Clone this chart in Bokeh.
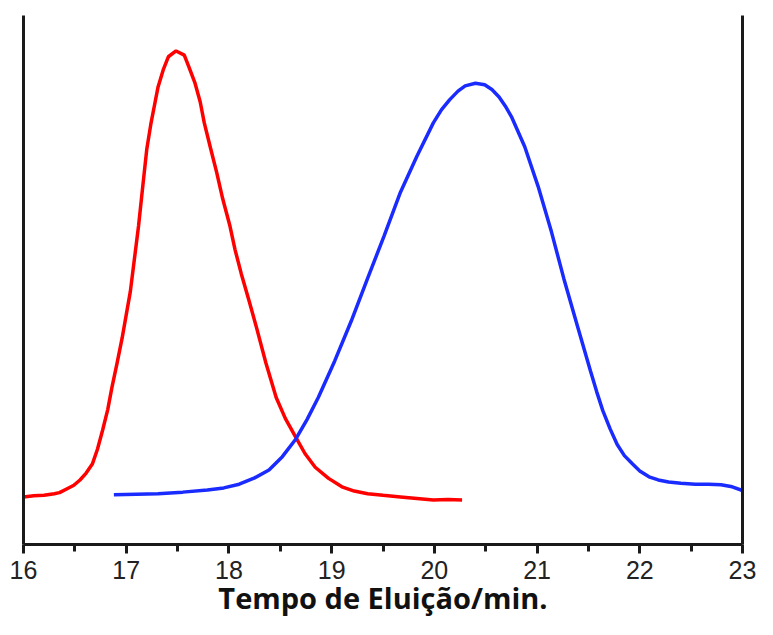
from bokeh.plotting import figure
from bokeh.models import Range1d, FixedTicker, LinearAxis
from bokeh.embed import file_html
from bokeh.resources import INLINE

# Elution time (min) and normalised detector signal
red_time = [16.00, 16.10, 16.20, 16.30, 16.35, 16.42, 16.49, 16.55, 16.61, 16.67,
            16.72, 16.77, 16.82, 16.86, 16.91, 16.96, 17.00, 17.04, 17.08, 17.12,
            17.16, 17.20, 17.24, 17.28, 17.31, 17.36, 17.41, 17.485, 17.565, 17.61,
            17.67, 17.72, 17.76, 17.82, 17.88, 17.94, 18.01, 18.06, 18.12, 18.20,
            18.27, 18.36, 18.46, 18.55, 18.65, 18.74, 18.84, 18.97, 19.10, 19.22,
            19.35, 19.50, 19.67, 19.83, 19.99, 20.13, 20.27]
red_signal = [0.090, 0.092, 0.093, 0.096, 0.098, 0.105, 0.112, 0.122, 0.135, 0.152,
              0.180, 0.216, 0.255, 0.296, 0.342, 0.390, 0.434, 0.478, 0.540, 0.602,
              0.675, 0.747, 0.795, 0.835, 0.865, 0.897, 0.922, 0.933, 0.925, 0.903,
              0.872, 0.837, 0.797, 0.750, 0.704, 0.653, 0.602, 0.557, 0.512, 0.458,
              0.409, 0.343, 0.278, 0.238, 0.203, 0.172, 0.146, 0.125, 0.109, 0.101,
              0.096, 0.093, 0.090, 0.087, 0.084, 0.085, 0.084]

blue_time = [16.88, 17.10, 17.31, 17.55, 17.79, 17.95, 18.10, 18.25, 18.39, 18.52,
             18.65, 18.76, 18.87, 19.03, 19.19, 19.35, 19.51, 19.67, 19.83, 19.99,
             20.07, 20.15, 20.23, 20.30, 20.40, 20.49, 20.56, 20.63, 20.69, 20.75,
             20.88, 21.01, 21.14, 21.26, 21.39, 21.52, 21.58, 21.64, 21.71, 21.78,
             21.85, 21.93, 22.00, 22.09, 22.18, 22.28, 22.40, 22.54, 22.67, 22.79,
             22.90, 23.00]
blue_signal = [0.094, 0.095, 0.096, 0.099, 0.103, 0.107, 0.114, 0.126, 0.141, 0.166,
               0.199, 0.236, 0.278, 0.347, 0.422, 0.503, 0.583, 0.666, 0.734, 0.797,
               0.822, 0.841, 0.857, 0.867, 0.872, 0.869, 0.860, 0.846, 0.829, 0.809,
               0.752, 0.677, 0.591, 0.503, 0.415, 0.328, 0.289, 0.253, 0.219, 0.189,
               0.168, 0.152, 0.139, 0.128, 0.122, 0.118, 0.116, 0.114, 0.114, 0.113,
               0.109, 0.102]

x_ticks = [16, 17, 18, 19, 20, 21, 22, 23]
x_minor_ticks = [16.5, 17.5, 18.5, 19.5, 20.5, 21.5, 22.5]
x_label = "Tempo de Eluição/min."

p = figure(width=757, height=619, output_backend="svg", toolbar_location=None,
           x_range=Range1d(16, 23), y_range=Range1d(0, 1),
           min_border_left=23, min_border_right=15, min_border_top=15,
           min_border_bottom=74)
p.outline_line_color = None
p.xgrid.visible = False
p.ygrid.visible = False
p.background_fill_color = "white"
p.border_fill_color = "white"

axis_color = "#1a1a1a"
xa = p.xaxis[0]
xa.ticker = FixedTicker(ticks=x_ticks, minor_ticks=x_minor_ticks)
xa.axis_line_width = 3
xa.axis_line_color = axis_color
xa.major_tick_line_width = 3
xa.major_tick_line_color = axis_color
xa.major_tick_in = 0
xa.major_tick_out = 9
xa.minor_tick_line_width = 3
xa.minor_tick_line_color = axis_color
xa.minor_tick_in = 0
xa.minor_tick_out = 7
xa.major_label_text_font = "Liberation Sans"
xa.major_label_text_font_size = "25px"
xa.major_label_text_color = "#222222"
xa.major_label_standoff = 7
xa.axis_label = x_label
xa.axis_label_text_font = "Open Sans"
xa.axis_label_text_font_style = "bold"
xa.axis_label_text_font_size = "29px"
xa.axis_label_text_color = "#111111"
xa.axis_label_standoff = -4

ya = p.yaxis[0]
ya.ticker = FixedTicker(ticks=[])
ya.axis_line_width = 3
ya.axis_line_color = axis_color
ya.major_label_text_font_size = "0px"

ra = LinearAxis(ticker=FixedTicker(ticks=[]), axis_line_width=3,
                axis_line_color=axis_color, major_label_text_font_size="0px")
p.add_layout(ra, "right")

p.line(red_time, red_signal, line_color="#ff0000", line_width=3.5)
p.line(blue_time, blue_signal, line_color="#1a2bff", line_width=3.5)

open("out.html", "w").write(file_html(p, INLINE))
